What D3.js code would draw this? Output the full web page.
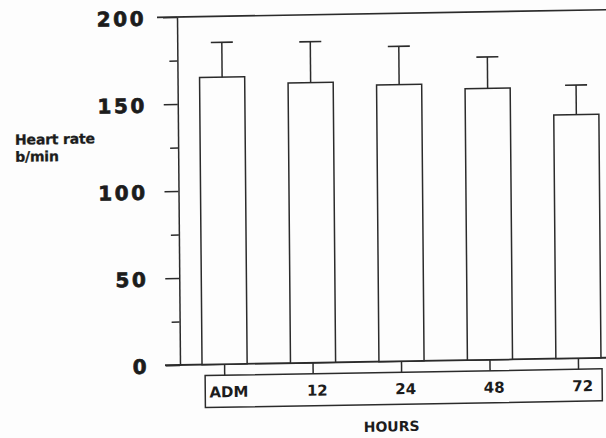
<!DOCTYPE html>
<html>
<head>
<meta charset="utf-8">
<script src="https://cdn.jsdelivr.net/npm/d3@7"></script>
<style>
  body { margin: 0; background: #fdfdfd; }
  svg { display: block; }
</style>
</head>
<body>
<div id="graph"></div>
<script>
/*global d3 */

var heures = ["ADM", "12", "24", "48", "72"],
    moyennes = [165, 161, 159, 156, 140],
    hautsErreur = [185, 184.5, 181, 174, 157],
    ticksMajeurs = [0, 50, 100, 150, 200],
    ticksMineurs = [25, 75, 125, 175],
    titreY = ["Heart rate", "b/min"],
    titreX = "HOURS";

function dessin() {
    "use strict";
    var largeur = 606,
        hauteur = 438,
        x0 = 180,
        y0 = 365,
        encre = "#2b2b2b",
        police = "'DejaVu Sans', Verdana, sans-serif",

        svg = d3.select("#graph")
            .append("svg")
                .attr("width", largeur)
                .attr("height", hauteur),

        // le scan est légèrement de travers
        g = svg.append("g")
            .attr("transform", "translate(" + x0 + "," + y0 + ") matrix(1,-0.017,0.0086,1,0,0) translate(" + (-x0) + "," + (-y0) + ")"),

        y = d3.scaleLinear()
            .domain([0, 200])
            .range([y0, 17]),

        x = d3.scaleBand()
            .domain(heures)
            .range([x0, 623])
            .paddingInner(0.49)
            .paddingOuter(0.249),

        donnees = heures.map(function (h, i) {
            return {h: h, m: moyennes[i], e: hautsErreur[i]};
        });

    // ligne du haut et ligne de base
    g.append("line")
        .attr("x1", 160).attr("x2", 640)
        .attr("y1", y(200)).attr("y2", y(200))
        .style("stroke", encre).style("stroke-width", 1.6);
    g.append("line")
        .attr("x1", 165).attr("x2", 640)
        .attr("y1", y(0)).attr("y2", y(0))
        .style("stroke", encre).style("stroke-width", 1.8);

    // axe vertical
    var axeY = g.append("g")
        .attr("transform", "translate(" + x0 + ",0)")
        .call(d3.axisLeft(y).tickValues(ticksMajeurs).tickSize(14).tickSizeOuter(0).tickPadding(17));
    g.append("g")
        .attr("transform", "translate(" + x0 + ",0)")
        .call(d3.axisLeft(y).tickValues(ticksMineurs).tickSize(8).tickSizeOuter(0).tickFormat(""))
        .select(".domain").remove();
    g.selectAll(".tick line, .domain")
        .style("stroke", encre)
        .style("stroke-width", 1.5);
    axeY.selectAll("text")
        .attr("dy", "0.38em")
        .style("font-family", police)
        .style("font-weight", "bold")
        .style("font-size", "20px")
        .style("letter-spacing", "2.5px")
        .style("fill", "#1c1c1c")
        .style("stroke", "#1c1c1c")
        .style("stroke-width", 0.7);

    g.selectAll(".titreY")
        .data(titreY)
        .enter()
        .append("text")
        .attr("x", 17)
        .attr("y", function (d, i) { return 142 + i * 17; })
        .style("font-family", police)
        .style("font-weight", "bold")
        .style("font-size", "14px")
        .style("letter-spacing", "-0.2px")
        .style("fill", "#1c1c1c")
        .style("stroke", "#1c1c1c")
        .style("stroke-width", 0.3)
        .text(function (d) { return d; });

    // barres
    g.selectAll(".barre")
        .data(donnees)
        .enter()
        .append("rect")
        .attr("x", function (d) { return x(d.h); })
        .attr("y", function (d) { return y(d.m); })
        .attr("width", x.bandwidth())
        .attr("height", function (d) { return y(0) - y(d.m); })
        .style("fill", "#fdfdfd")
        .style("stroke", encre)
        .style("stroke-width", 1.5);

    // barres d'erreur
    var cx = function (d) { return x(d.h) + x.bandwidth() / 2; };
    g.selectAll(".erreur")
        .data(donnees)
        .enter()
        .append("line")
        .attr("x1", cx).attr("x2", cx)
        .attr("y1", function (d) { return y(d.m); })
        .attr("y2", function (d) { return y(d.e); })
        .style("stroke", encre).style("stroke-width", 1.5);
    g.selectAll(".chapeau")
        .data(donnees)
        .enter()
        .append("line")
        .attr("x1", function (d) { return cx(d) - 11; })
        .attr("x2", function (d) { return cx(d) + 11; })
        .attr("y1", function (d) { return y(d.e); })
        .attr("y2", function (d) { return y(d.e); })
        .style("stroke", encre).style("stroke-width", 1.6);

    // boîte des heures
    var gauche = x(heures[0]) + 3,
        droite = x(heures[heures.length - 1]) + x.bandwidth() + 1;
    g.append("rect")
        .attr("x", gauche)
        .attr("y", y0 + 11)
        .attr("width", droite - gauche)
        .attr("height", 32)
        .style("fill", "none")
        .style("stroke", encre)
        .style("stroke-width", 1.5);

    var axeX = g.append("g")
        .attr("transform", "translate(0," + y0 + ")")
        .call(d3.axisBottom(x).tickSize(11).tickSizeOuter(0));
    axeX.select(".domain").remove();
    axeX.selectAll("line")
        .style("stroke", encre)
        .style("stroke-width", 1.5);
    axeX.selectAll("text")
        .attr("y", 33)
        .attr("dy", 0)
        .attr("dx", 4)
        .style("font-family", police)
        .style("font-weight", "bold")
        .style("font-size", "15px")
        .style("fill", "#1c1c1c");

    g.append("text")
        .attr("x", 391)
        .attr("y", 435)
        .style("text-anchor", "middle")
        .style("font-family", police)
        .style("font-weight", "bold")
        .style("font-size", "14px")
        .style("fill", "#1c1c1c")
        .text(titreX);
}

dessin();
</script>
</body>
</html>
